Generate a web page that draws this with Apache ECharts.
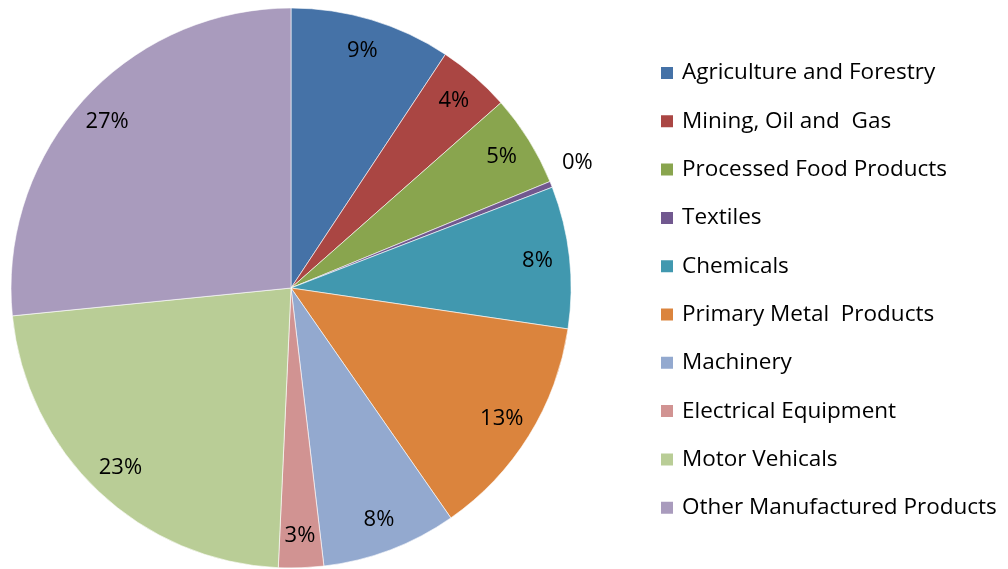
<!DOCTYPE html>
<html>
<head>
<meta charset="utf-8">
<script src="https://cdn.jsdelivr.net/npm/echarts@6/dist/echarts.min.js"></script>
<style>html,body{margin:0;padding:0;background:#fff}#chart{width:1008px;height:569px}</style>
</head>
<body>
<div id="chart"></div>
<script>
const categories = ["Agriculture and Forestry","Mining, Oil and  Gas","Processed Food Products","Textiles","Chemicals","Primary Metal  Products","Machinery","Electrical Equipment","Motor Vehicals","Other Manufactured Products"];
const shares = [9.3, 4.2, 5.3, 0.35, 8.2, 13.0, 7.8, 2.6, 22.7, 26.6];
const colors = ["#4572A7","#AA4643","#89A54E","#71588F","#4198AF","#DB843D","#93A9CF","#D19392","#B9CD96","#A99BBD"];

const chart = echarts.init(document.getElementById('chart'));
const font = '"Open Sans", sans-serif';
const pieData = categories.map((c, i) => ({ name: c, value: shares[i], itemStyle: { color: colors[i] } }));
const labelData = categories.map((c, i) => {
  const d = { name: c, value: shares[i] };
  if (c === "Textiles") d.label = { offset: [56, -33] };
  return d;
});
chart.setOption({
  animation: false,
  legend: {
    orient: 'vertical',
    left: 654,
    top: 56,
    itemWidth: 14,
    itemHeight: 14,
    itemGap: 24.3,
    icon: 'rect',
    textStyle: { fontFamily: font, fontSize: 22.5, lineHeight: 24, color: '#000', padding: [0, 0, 0, 3] },
    data: categories
  },
  series: [
    {
      type: 'pie',
      center: [291, 288],
      radius: [0, 280],
      startAngle: 90,
      clockwise: true,
      itemStyle: { borderColor: '#fff', borderWidth: 0.6 },
      label: { show: false },
      labelLine: { show: false },
      emphasis: { disabled: true },
      data: pieData
    },
    {
      type: 'pie',
      center: [291, 288],
      radius: [210, 280],
      startAngle: 90,
      clockwise: true,
      silent: true,
      legendHoverLink: false,
      percentPrecision: 2,
      itemStyle: { color: 'rgba(255,255,255,0)', borderWidth: 0 },
      label: {
        show: true,
        position: 'inside',
        fontFamily: font,
        fontSize: 22,
        color: '#000',
        formatter: p => Math.round(p.percent) + '%'
      },
      labelLine: { show: false },
      emphasis: { disabled: true },
      data: labelData
    }
  ]
});
</script>
</body>
</html>
